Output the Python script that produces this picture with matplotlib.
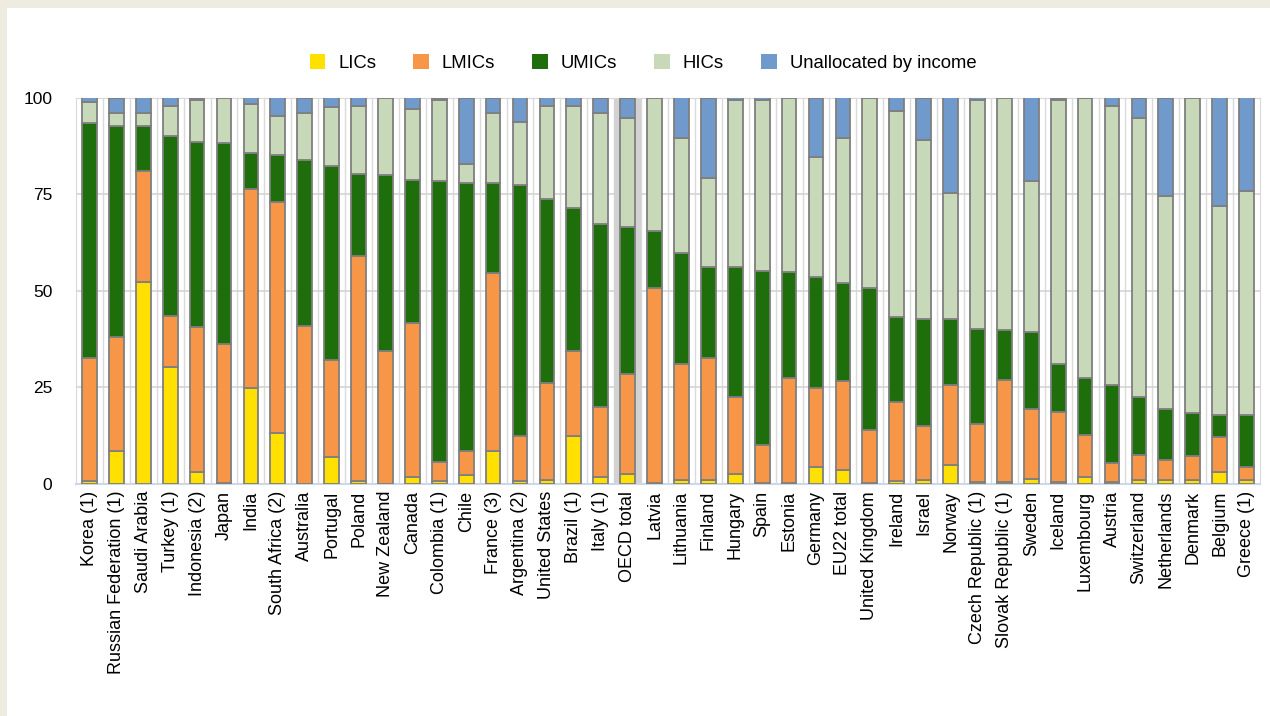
import numpy as np
import matplotlib
matplotlib.use('Agg')
import matplotlib.pyplot as plt
from matplotlib.patches import Rectangle

plt.rcParams['font.family'] = ['Liberation Sans', 'DejaVu Sans']

countries = ['Korea (1)', 'Russian Federation (1)', 'Saudi Arabia', 'Turkey (1)', 'Indonesia (2)',
             'Japan', 'India', 'South Africa (2)', 'Australia', 'Portugal', 'Poland', 'New Zealand',
             'Canada', 'Colombia (1)', 'Chile', 'France (3)', 'Argentina (2)', 'United States',
             'Brazil (1)', 'Italy (1)', 'OECD total', 'Latvia', 'Lithuania', 'Finland', 'Hungary',
             'Spain', 'Estonia', 'Germany', 'EU22 total', 'United Kingdom', 'Ireland', 'Israel',
             'Norway', 'Czech Republic (1)', 'Slovak Republic (1)', 'Sweden', 'Iceland',
             'Luxembourg', 'Austria', 'Switzerland', 'Netherlands', 'Denmark', 'Belgium', 'Greece (1)']

lics = [0.7, 8.5, 52.3, 30.3, 3.0, 0.2, 24.8, 13.2, 0.0, 7.1, 0.7, 0.0,
        1.7, 0.7, 2.2, 8.5, 0.7, 1.0, 12.5, 1.7, 2.6, 0.2, 1.0, 1.0, 2.6,
        0.2, 0.2, 4.3, 3.5, 0.2, 0.7, 1.0, 5.0, 0.6, 0.6, 1.3, 0.6,
        1.7, 0.6, 1.0, 1.0, 1.0, 3.0, 1.0]
lmics = [31.9, 29.5, 28.6, 13.1, 37.5, 36.1, 51.5, 59.7, 40.8, 25.1, 58.4, 34.3,
         40.0, 4.9, 6.3, 46.0, 11.8, 25.1, 21.8, 18.2, 25.9, 50.6, 30.0, 31.7, 19.9,
         9.9, 27.2, 20.5, 23.1, 13.9, 20.5, 13.9, 20.7, 14.8, 26.2, 18.2, 18.0,
         11.1, 4.8, 6.5, 5.3, 6.2, 9.1, 3.3]
umics = [60.8, 54.6, 11.7, 46.7, 48.0, 51.9, 9.3, 12.3, 42.9, 50.2, 21.2, 45.7,
         37.0, 72.7, 69.4, 23.4, 64.9, 47.7, 37.1, 47.3, 37.9, 14.7, 28.7, 23.4, 33.6,
         45.1, 27.4, 28.8, 25.5, 36.7, 22.1, 27.7, 16.9, 24.7, 13.0, 19.7, 12.4,
         14.6, 20.3, 15.0, 13.2, 11.1, 5.8, 13.6]
hics = [5.5, 3.4, 3.4, 7.7, 10.8, 11.8, 12.8, 10.0, 12.3, 15.2, 17.5, 20.0,
        18.4, 21.0, 5.0, 18.1, 16.2, 24.0, 26.4, 28.8, 28.3, 34.5, 29.7, 23.1, 43.2,
        44.1, 45.2, 30.9, 37.3, 49.2, 53.2, 46.5, 32.8, 59.2, 60.2, 39.1, 68.3,
        72.6, 72.1, 72.2, 55.1, 81.7, 53.9, 58.0]
unalloc = [1.1, 4.0, 4.0, 2.2, 0.7, 0.0, 1.6, 4.8, 4.0, 2.4, 2.2, 0.0,
           2.9, 0.7, 17.1, 4.0, 6.4, 2.2, 2.2, 4.0, 5.3, 0.0, 10.6, 20.8, 0.7,
           0.7, 0.0, 15.5, 10.6, 0.0, 3.5, 10.9, 24.6, 0.7, 0.0, 21.7, 0.7,
           0.0, 2.2, 5.3, 25.4, 0.0, 28.2, 24.1]

series = [lics, lmics, umics, hics, unalloc]
names = ['LICs', 'LMICs', 'UMICs', 'HICs', 'Unallocated by income']
colors = ['#FFE000', '#F79646', '#1E6E0B', '#C8D9B9', '#7099CC']

fig = plt.figure(figsize=(12.7, 7.16), dpi=100, facecolor='white')
# beige frame on left and top
fig.patches.append(Rectangle((0, 0), 7 / 1270, 1, transform=fig.transFigure,
                             facecolor='#EEECE1', edgecolor='none', zorder=0))
fig.patches.append(Rectangle((0, 1 - 8 / 716), 1, 8 / 716, transform=fig.transFigure,
                             facecolor='#EEECE1', edgecolor='none', zorder=0))

ax = fig.add_axes([76 / 1270, 1 - 484 / 716, (1260 - 76) / 1270, (484 - 97.5) / 716])

x = np.arange(len(countries))
bottom = np.zeros(len(countries))
for vals, name, col in zip(series, names, colors):
    vals = np.array(vals)
    ax.bar(x, vals, 0.55, bottom=bottom, color=col, edgecolor='#7F7F7F',
           linewidth=1.3, label=name, zorder=3)
    bottom += vals

# OECD total highlight
i_oecd = countries.index('OECD total')
ax.axvspan(i_oecd - 0.5, i_oecd + 0.5, color='#D2D2D2', zorder=1, linewidth=0)

for b in np.arange(len(countries) - 1) + 0.5:
    ax.axvline(b, color='#DADADA', linewidth=1, zorder=0.5)
for yv in [25, 50, 75]:
    ax.axhline(yv, color='#D4D4D4', linewidth=1.2, zorder=0.5)

ax.set_xlim(-0.5, len(countries) - 0.5)
ax.set_ylim(0, 100)
ax.set_yticks([0, 25, 50, 75, 100])
ax.set_xticks(x)
ax.set_xticklabels(countries, rotation=90, fontsize=13)
ax.tick_params(axis='y', length=0, pad=17, labelsize=12.5)
ax.tick_params(axis='x', length=0, pad=5)

for s in ['left', 'top', 'right']:
    ax.spines[s].set_color('#D9D9D9')
ax.spines['bottom'].set_color('#CDD7EA')
ax.spines['bottom'].set_linewidth(1.5)

fig.legend(loc='center', bbox_to_anchor=(643 / 1270, 1 - 63 / 716), ncol=5,
           frameon=False, fontsize=13.3, handlelength=0.85, handleheight=0.85,
           handletextpad=0.7, columnspacing=2.0)
leg = fig.legends[0]
for h in leg.legend_handles:
    h.set_edgecolor('none')

fig.savefig('out.png', dpi=100, facecolor=fig.get_facecolor())
